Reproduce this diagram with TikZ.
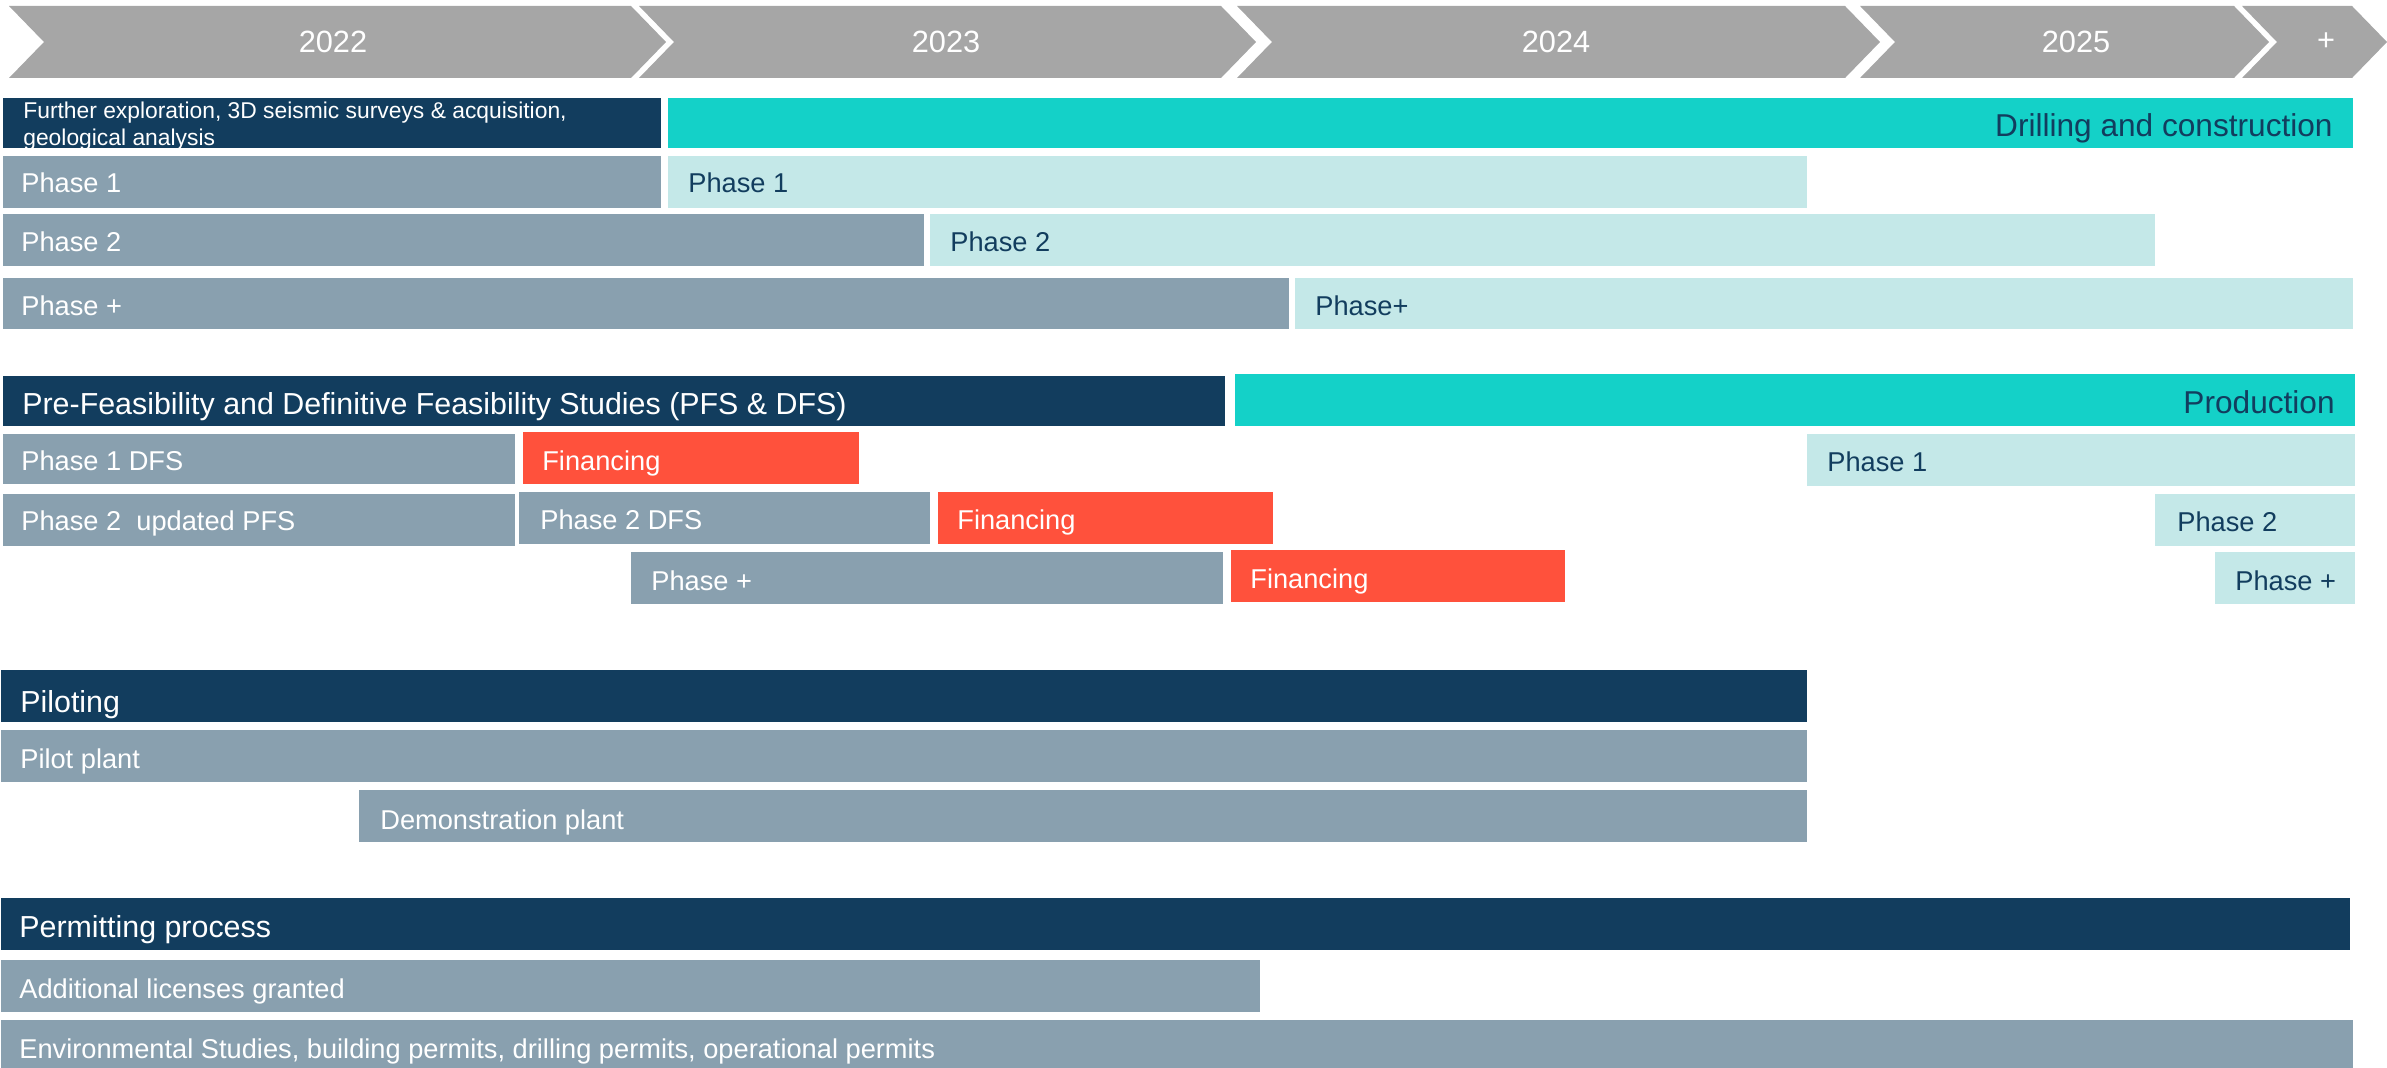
\documentclass[tikz,border=0pt]{standalone}
\usepackage{fontspec}
\setmainfont{Liberation Sans}
\definecolor{chevgrey}{HTML}{A6A6A6}
\definecolor{navy}{HTML}{123D5E}
\definecolor{teal}{HTML}{14D1C8}
\definecolor{bargrey}{HTML}{89A0AF}
\definecolor{lightteal}{HTML}{C4E8E8}
\definecolor{finred}{HTML}{FF513C}
\begin{document}
\begin{tikzpicture}[x=0.02cm,y=-0.02cm,
    yearlbl/.style={text=white,inner sep=0,font=\fontsize{17.5}{20}\selectfont},
    wlbl/.style={anchor=base west,inner sep=0,text=white,font=\fontsize{15.5}{18}\selectfont},
    nlbl/.style={wlbl,text=navy},
    whead/.style={wlbl,font=\fontsize{17.3}{21}\selectfont},
    nhead/.style={whead,anchor=base east,text=navy,font=\fontsize{18}{21}\selectfont},
    small/.style={wlbl,font=\fontsize{13}{15}\selectfont}]
  \useasboundingbox (0,0) rectangle (2387,1068);
  % years
  \foreach \xl/\xr/\xt/\yr [count=\i] in {9/631/333/2022,639/1221/946/2023,1237/1845/1556/2024,1860/2234/2076/2025,2242/2352/2326/+}{
    \fill[chevgrey] (\xl,6) -- (\xr,6) -- ++(35,36) -- (\xr,78) -- (\xl,78) -- ++(35,-36) -- cycle;
    \node[yearlbl] (year\i) at (\xt,42) {\yr};
  }
  % drilling and construction
  \begin{scope}
    \clip (3,98) rectangle (661,148);
    \fill[navy] (3,98) rectangle (661,148);
    \node[small] (expl1) at (23,118) {Further exploration, 3D seismic surveys \& acquisition,};
    \node[small] (expl2) at (23,146) {geological analysis};
  \end{scope}
  \fill[teal] (668,98) rectangle (2353,148);
  \node[nhead] (drill) at (2333,136) {Drilling and construction};
  \fill[bargrey] (3,156) rectangle (661,208);
  \node[wlbl] (ex1) at (21,193) {Phase 1};
  \fill[lightteal] (668,156) rectangle (1807,208);
  \node[nlbl] (dr1) at (688,193) {Phase 1};
  \fill[bargrey] (3,214) rectangle (924,266);
  \node[wlbl] (ex2) at (21,251) {Phase 2};
  \fill[lightteal] (930,214) rectangle (2155,266);
  \node[nlbl] (dr2) at (950,251) {Phase 2};
  \fill[bargrey] (3,278) rectangle (1289,329);
  \node[wlbl] (ex3) at (21,315) {Phase +};
  \fill[lightteal] (1295,278) rectangle (2353,329);
  \node[nlbl] (dr3) at (1315,315) {Phase+};
  % studies and production
  \fill[navy] (3,376) rectangle (1225,426);
  \node[whead] (study) at (22,414) {Pre-Feasibility and Definitive Feasibility Studies (PFS \& DFS)};
  \fill[teal] (1235,374) rectangle (2355,426);
  \node[nhead] (prod) at (2335,413) {Production};
  \fill[bargrey] (3,434) rectangle (515,484);
  \node[wlbl] (st1) at (21,470) {Phase 1 DFS};
  \fill[finred] (523,432) rectangle (859,484);
  \node[wlbl] (fin1) at (542,470) {Financing};
  \fill[lightteal] (1807,434) rectangle (2355,486);
  \node[nlbl] (pr1) at (1827,471) {Phase 1};
  \fill[bargrey] (3,494) rectangle (515,546);
  \node[wlbl] (st2a) at (21,530) {Phase 2~ updated PFS};
  \fill[bargrey] (519,492) rectangle (930,544);
  \node[wlbl] (st2b) at (540,529) {Phase 2 DFS};
  \fill[finred] (938,492) rectangle (1273,544);
  \node[wlbl] (fin2) at (957,529) {Financing};
  \fill[lightteal] (2155,494) rectangle (2355,546);
  \node[nlbl] (pr2) at (2177,531) {Phase 2};
  \fill[bargrey] (631,552) rectangle (1223,604);
  \node[wlbl] (st3) at (651,590) {Phase +};
  \fill[finred] (1231,550) rectangle (1565,602);
  \node[wlbl] (fin3) at (1250,588) {Financing};
  \fill[lightteal] (2215,552) rectangle (2355,604);
  \node[nlbl] (pr3) at (2235,590) {Phase +};
  % piloting
  \fill[navy] (1,670) rectangle (1807,722);
  \node[whead] (pilot) at (20,712) {Piloting};
  \fill[bargrey] (1,730) rectangle (1807,782);
  \node[wlbl] (pplant) at (20,768) {Pilot plant};
  \fill[bargrey] (359,790) rectangle (1807,842);
  \node[wlbl] (dplant) at (380,829) {Demonstration plant};
  % permitting
  \fill[navy] (1,898) rectangle (2350,950);
  \node[whead] (permit) at (19,937) {Permitting process};
  \fill[bargrey] (1,960) rectangle (1260,1012);
  \node[wlbl] (licen) at (19,998) {Additional licenses granted};
  \fill[bargrey] (1,1020) rectangle (2353,1068);
  \node[wlbl] (envir) at (19,1058) {Environmental Studies, building permits, drilling permits, operational permits};
\end{tikzpicture}
\end{document}
